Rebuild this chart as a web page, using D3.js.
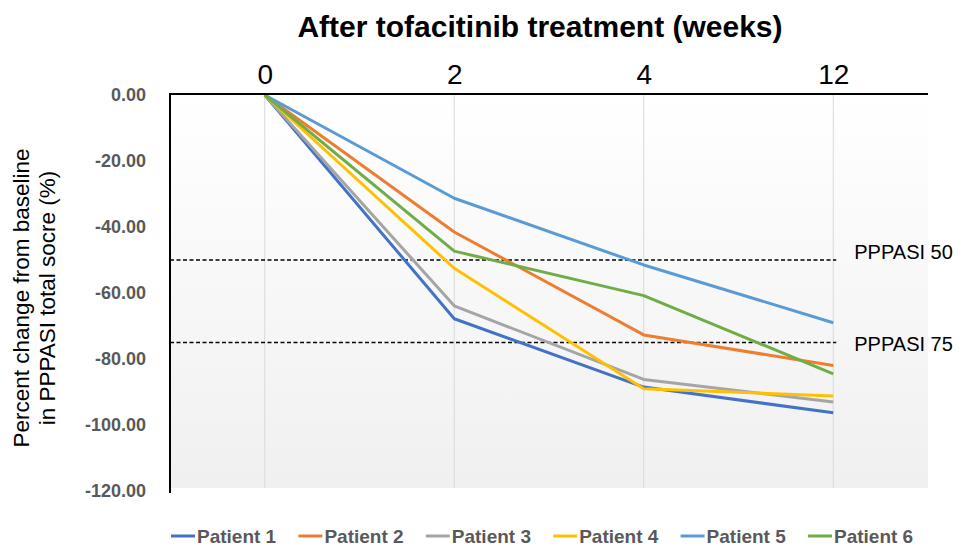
<!DOCTYPE html>
<html><head><meta charset="utf-8">
<script src="https://cdn.jsdelivr.net/npm/d3@7"></script>
<style>
body{margin:0;background:#fff;}
svg{display:block;font-family:"Liberation Sans",Arial,sans-serif;}
</style></head>
<body><svg id="c" width="968" height="546"></svg>
<script>
const weeks = ["0","2","4","12"];
const patients = ["Patient 1","Patient 2","Patient 3","Patient 4","Patient 5","Patient 6"];
const colors = ["#4472C4","#ED7D31","#A5A5A5","#FFC000","#5B9BD5","#70AD47"];
const patient1 = [0, -67.8, -88.5, -96.3];
const patient2 = [0, -41.5, -72.7, -82.0];
const patient3 = [0, -63.9, -86.2, -93.0];
const patient4 = [0, -52.5, -89.0, -91.2];
const patient5 = [0, -31.3, -51.5, -69.0];
const patient6 = [0, -47.3, -60.8, -84.5];
const series = [patient1, patient2, patient3, patient4, patient5, patient6];
const yTicks = [0, -20, -40, -60, -80, -100, -120];
const refValues = [-50, -75];
const refLabels = ["PPPASI 50", "PPPASI 75"];
const title = "After tofacitinib treatment (weeks)";
const yLabel = ["Percent change from baseline", "in PPPASI total socre (%)"];

const svg = d3.select("#c");
const L = 170, R = 928;
const x = d3.scalePoint().domain(weeks).range([L, R]).padding(0.5);
const y = d3.scaleLinear().domain([-120, 0]).range([491, 95]);

// gradient background
const defs = svg.append("defs");
const g = defs.append("linearGradient").attr("id","bg").attr("x1",0).attr("y1",0).attr("x2",0).attr("y2",1);
g.append("stop").attr("offset","0%").attr("stop-color","#ffffff");
g.append("stop").attr("offset","100%").attr("stop-color","#f0f0f0");
svg.append("rect").attr("x",L).attr("y",y(0)-1).attr("width",R-L).attr("height",y(-120)-y(0)-2).attr("fill","url(#bg)");

// vertical gridlines
svg.append("g").selectAll("line").data(weeks).join("line")
  .attr("x1",d=>x(d)).attr("x2",d=>x(d)).attr("y1",y(0)).attr("y2",y(-120)-3)
  .attr("stroke","#d9d9d9").attr("stroke-width",1);

// reference dashed lines
svg.append("g").selectAll("line").data(refValues).join("line")
  .attr("x1",L).attr("x2",x("12")+3).attr("y1",d=>y(d)).attr("y2",d=>y(d))
  .attr("stroke","#000").attr("stroke-width",1.3).attr("stroke-dasharray","4,2.5");
svg.append("g").selectAll("text").data(refValues).join("text")
  .attr("x",x("12")+21).attr("y",(d,i)=>y(d)+(i===0?-1:8))
  .attr("font-size",20).attr("fill","#000").text((d,i)=>refLabels[i]);

// lines
const line = d3.line().x((d,i)=>x(weeks[i])).y(d=>y(d));
svg.append("g").selectAll("path").data(series).join("path")
  .attr("d",line).attr("fill","none").attr("stroke",(d,i)=>colors[i])
  .attr("stroke-width",3).attr("stroke-linejoin","round");

// top axis
const xa = svg.append("g").attr("transform",`translate(0,${y(0)-1})`)
  .call(d3.axisTop(x).tickSize(0).tickSizeOuter(0).tickPadding(10));
xa.select(".domain").attr("stroke","#000").attr("stroke-width",2).attr("d",`M${L},0H${R}`);
xa.selectAll("text").attr("font-size",28).attr("fill","#000").attr("font-family","Liberation Sans, Arial, sans-serif");

// left axis
const fmt = d => d3.format(".2f")(d).replace("\u2212","-");
const ya = svg.append("g").attr("transform",`translate(${L},0)`)
  .call(d3.axisLeft(y).tickValues(yTicks).tickFormat(fmt).tickSize(0).tickSizeOuter(0).tickPadding(24));
ya.select(".domain").attr("stroke","#000").attr("stroke-width",2).attr("d",`M0,${y(0)-2}V${y(-120)+2}`);
ya.selectAll("text").attr("font-size",18).attr("font-weight","bold").attr("fill","#595959").attr("font-family","Liberation Sans, Arial, sans-serif");

// title
svg.append("text").attr("x",540).attr("y",37).attr("text-anchor","middle")
  .attr("font-size",30).attr("font-weight","bold").attr("fill","#000").text(title);

// y label
svg.append("g").selectAll("text").data(yLabel).join("text")
  .attr("transform",(d,i)=>`translate(${29+i*26},298) rotate(-90)`)
  .attr("text-anchor","middle").attr("font-size",22.5).attr("fill","#000").text(d=>d);

// legend
const lg = svg.append("g").selectAll("g").data(patients).join("g")
  .attr("transform",(d,i)=>`translate(${171+i*127.4},536)`);
lg.append("line").attr("x1",0).attr("x2",24).attr("y1",0).attr("y2",0)
  .attr("stroke",(d,i)=>colors[i]).attr("stroke-width",3);
lg.append("text").attr("x",26).attr("y",6.5).attr("font-size",19).attr("font-weight","bold")
  .attr("fill","#595959").text(d=>d);
</script></body></html>
